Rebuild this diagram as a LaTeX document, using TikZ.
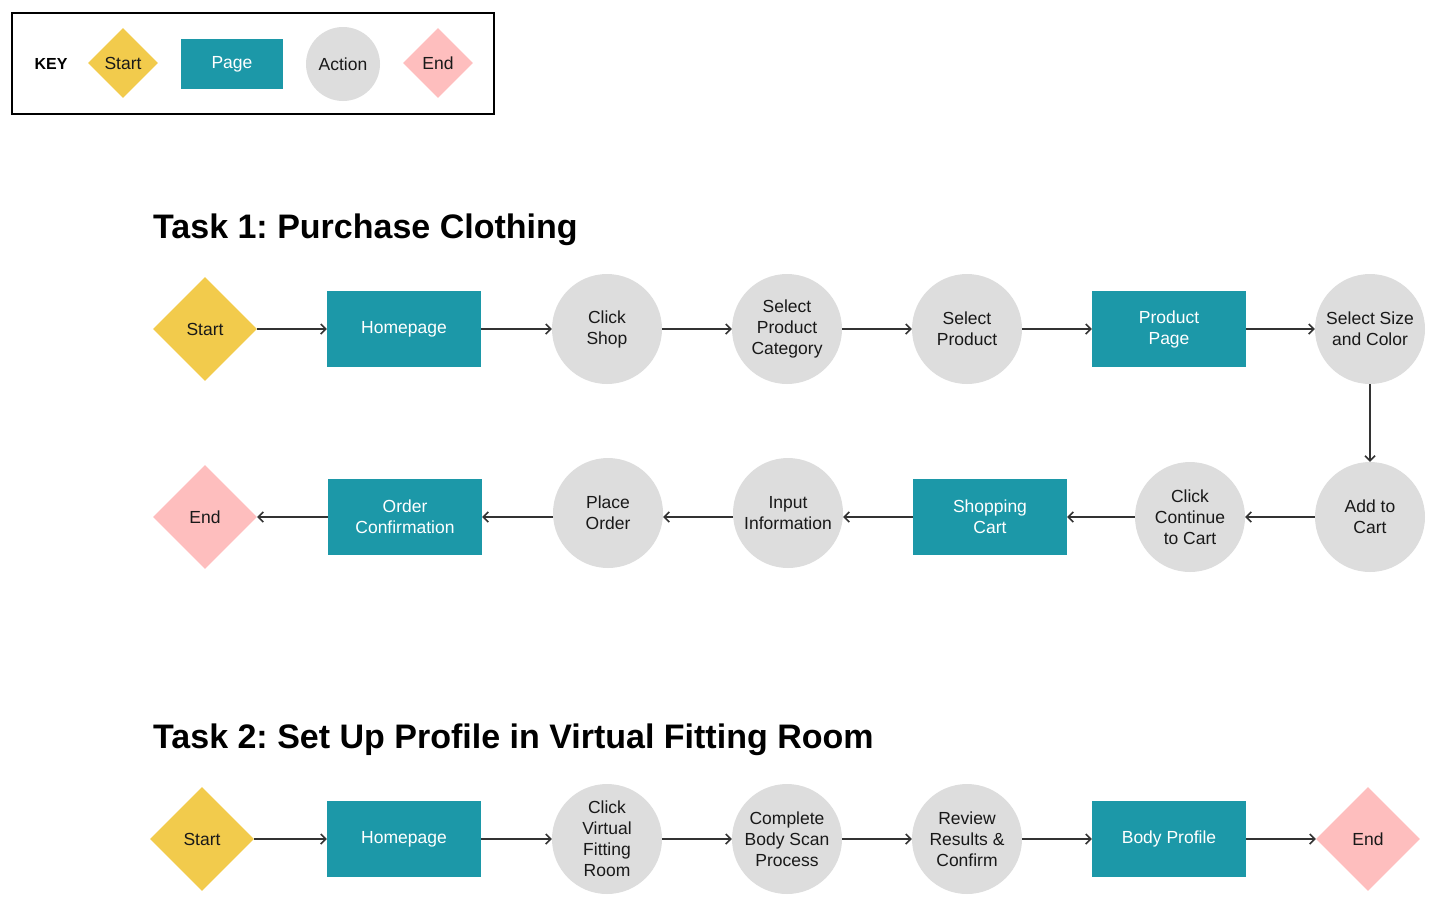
\documentclass[tikz,border=0pt]{standalone}
\usepackage{fontspec}
\setmainfont{Liberation Sans}
\usetikzlibrary{shapes.geometric,arrows.meta}
\definecolor{startc}{HTML}{F2CB4C}
\definecolor{pagec}{HTML}{1C98A8}
\definecolor{actc}{HTML}{DDDDDD}
\definecolor{endc}{HTML}{FEBEBE}
\definecolor{linec}{HTML}{333333}
\frenchspacing
\tikzset{
  lbl/.style={font=\fontsize{17.5}{21}\selectfont, align=center, text=black!90},
  startbox/.style={lbl, diamond, fill=startc, inner sep=0pt, minimum width=104, minimum height=104},
  endbox/.style={lbl, diamond, fill=endc, inner sep=0pt, minimum width=104, minimum height=104},
  pagebox/.style={lbl, rectangle, fill=pagec, text=white, minimum width=154, minimum height=76, inner sep=0pt},
  actbox/.style={lbl, circle, fill=actc, minimum size=110, inner sep=0pt},
  conn/.style={draw=linec, line width=1.5, -{Straight Barb[length=5,width=10,line width=1.5]}},
  ttl/.style={font=\fontsize{34}{40}\selectfont\bfseries, anchor=base west, inner sep=0pt},
}
\begin{document}
\begin{tikzpicture}[x=1pt,y=-1pt]
\useasboundingbox (0,0) rectangle (1437,914);
% Key
\node[draw=black, line width=1.5, minimum width=482, minimum height=101, inner sep=0pt] (keybox) at (253,63.5) {};
\node[font=\fontsize{16}{19}\selectfont\bfseries] (keylbl) at (51,64) {KEY};
\node[startbox, minimum width=70, minimum height=70] (kstart) at (123,63) {Start};
\node[pagebox, minimum width=102, minimum height=50] (kpage) at (232,64) {\raisebox{-2pt}{Page}};
\node[actbox, minimum size=74] (kact) at (343,64) {Action};
\node[endbox, minimum width=70, minimum height=70] (kend) at (438,63) {End};

% Task 1
\node[ttl] (t1) at (153,238) {Task 1: Purchase Clothing};
\node[startbox] (s1) at (205,329) {Start};
\node[pagebox] (home1) at (404,329) {Homepage};
\node[actbox] (shop) at (607,329) {Click\\Shop};
\node[actbox] (cat) at (787,329) {Select\\Product\\Category};
\node[actbox] (prod) at (967,329) {Select\\Product};
\node[pagebox] (ppage) at (1169,329) {Product\\Page};
\node[actbox] (size) at (1370,329) {Select Size\\and Color};
\node[actbox] (add) at (1370,517) {Add to\\Cart};
\node[actbox] (cont) at (1190,517) {Click\\Continue\\to Cart};
\node[pagebox] (cart) at (990,517) {Shopping\\Cart};
\node[actbox] (info) at (788,513) {Input\\Information};
\node[actbox] (place) at (608,513) {Place\\Order};
\node[pagebox] (conf) at (405,517) {Order\\Confirmation};
\node[endbox] (e1) at (205,517) {End};

\draw[conn] (s1) -- (home1);
\draw[conn] (home1) -- (shop);
\draw[conn] (shop) -- (cat);
\draw[conn] (cat) -- (prod);
\draw[conn] (prod) -- (ppage);
\draw[conn] (ppage) -- (size);
\draw[conn] (size) -- (add);
\draw[conn] (add) -- (cont);
\draw[conn] (cont) -- (cart);
\draw[conn] (cart.west) -- (info.east |- cart.west);
\draw[conn] (info.west |- cart.west) -- (place.east |- cart.west);
\draw[conn] (place.west |- conf.east) -- (conf.east);
\draw[conn] (conf) -- (e1);

% Task 2
\node[ttl] (t2) at (153,748) {Task 2: Set Up Profile in Virtual Fitting Room};
\node[startbox] (s2) at (202,839) {Start};
\node[pagebox] (home2) at (404,839) {Homepage};
\node[actbox] (vfr) at (607,839) {Click\\Virtual\\Fitting\\Room};
\node[actbox] (scan) at (787,839) {Complete\\Body Scan\\Process};
\node[actbox] (rev) at (967,839) {Review\\Results \&\\Confirm};
\node[pagebox] (bp) at (1169,839) {Body Profile};
\node[endbox] (e2) at (1368,839) {End};

\draw[conn] (s2) -- (home2);
\draw[conn] (home2) -- (vfr);
\draw[conn] (vfr) -- (scan);
\draw[conn] (scan) -- (rev);
\draw[conn] (rev) -- (bp);
\draw[conn] (bp) -- (e2);
\end{tikzpicture}
\end{document}
